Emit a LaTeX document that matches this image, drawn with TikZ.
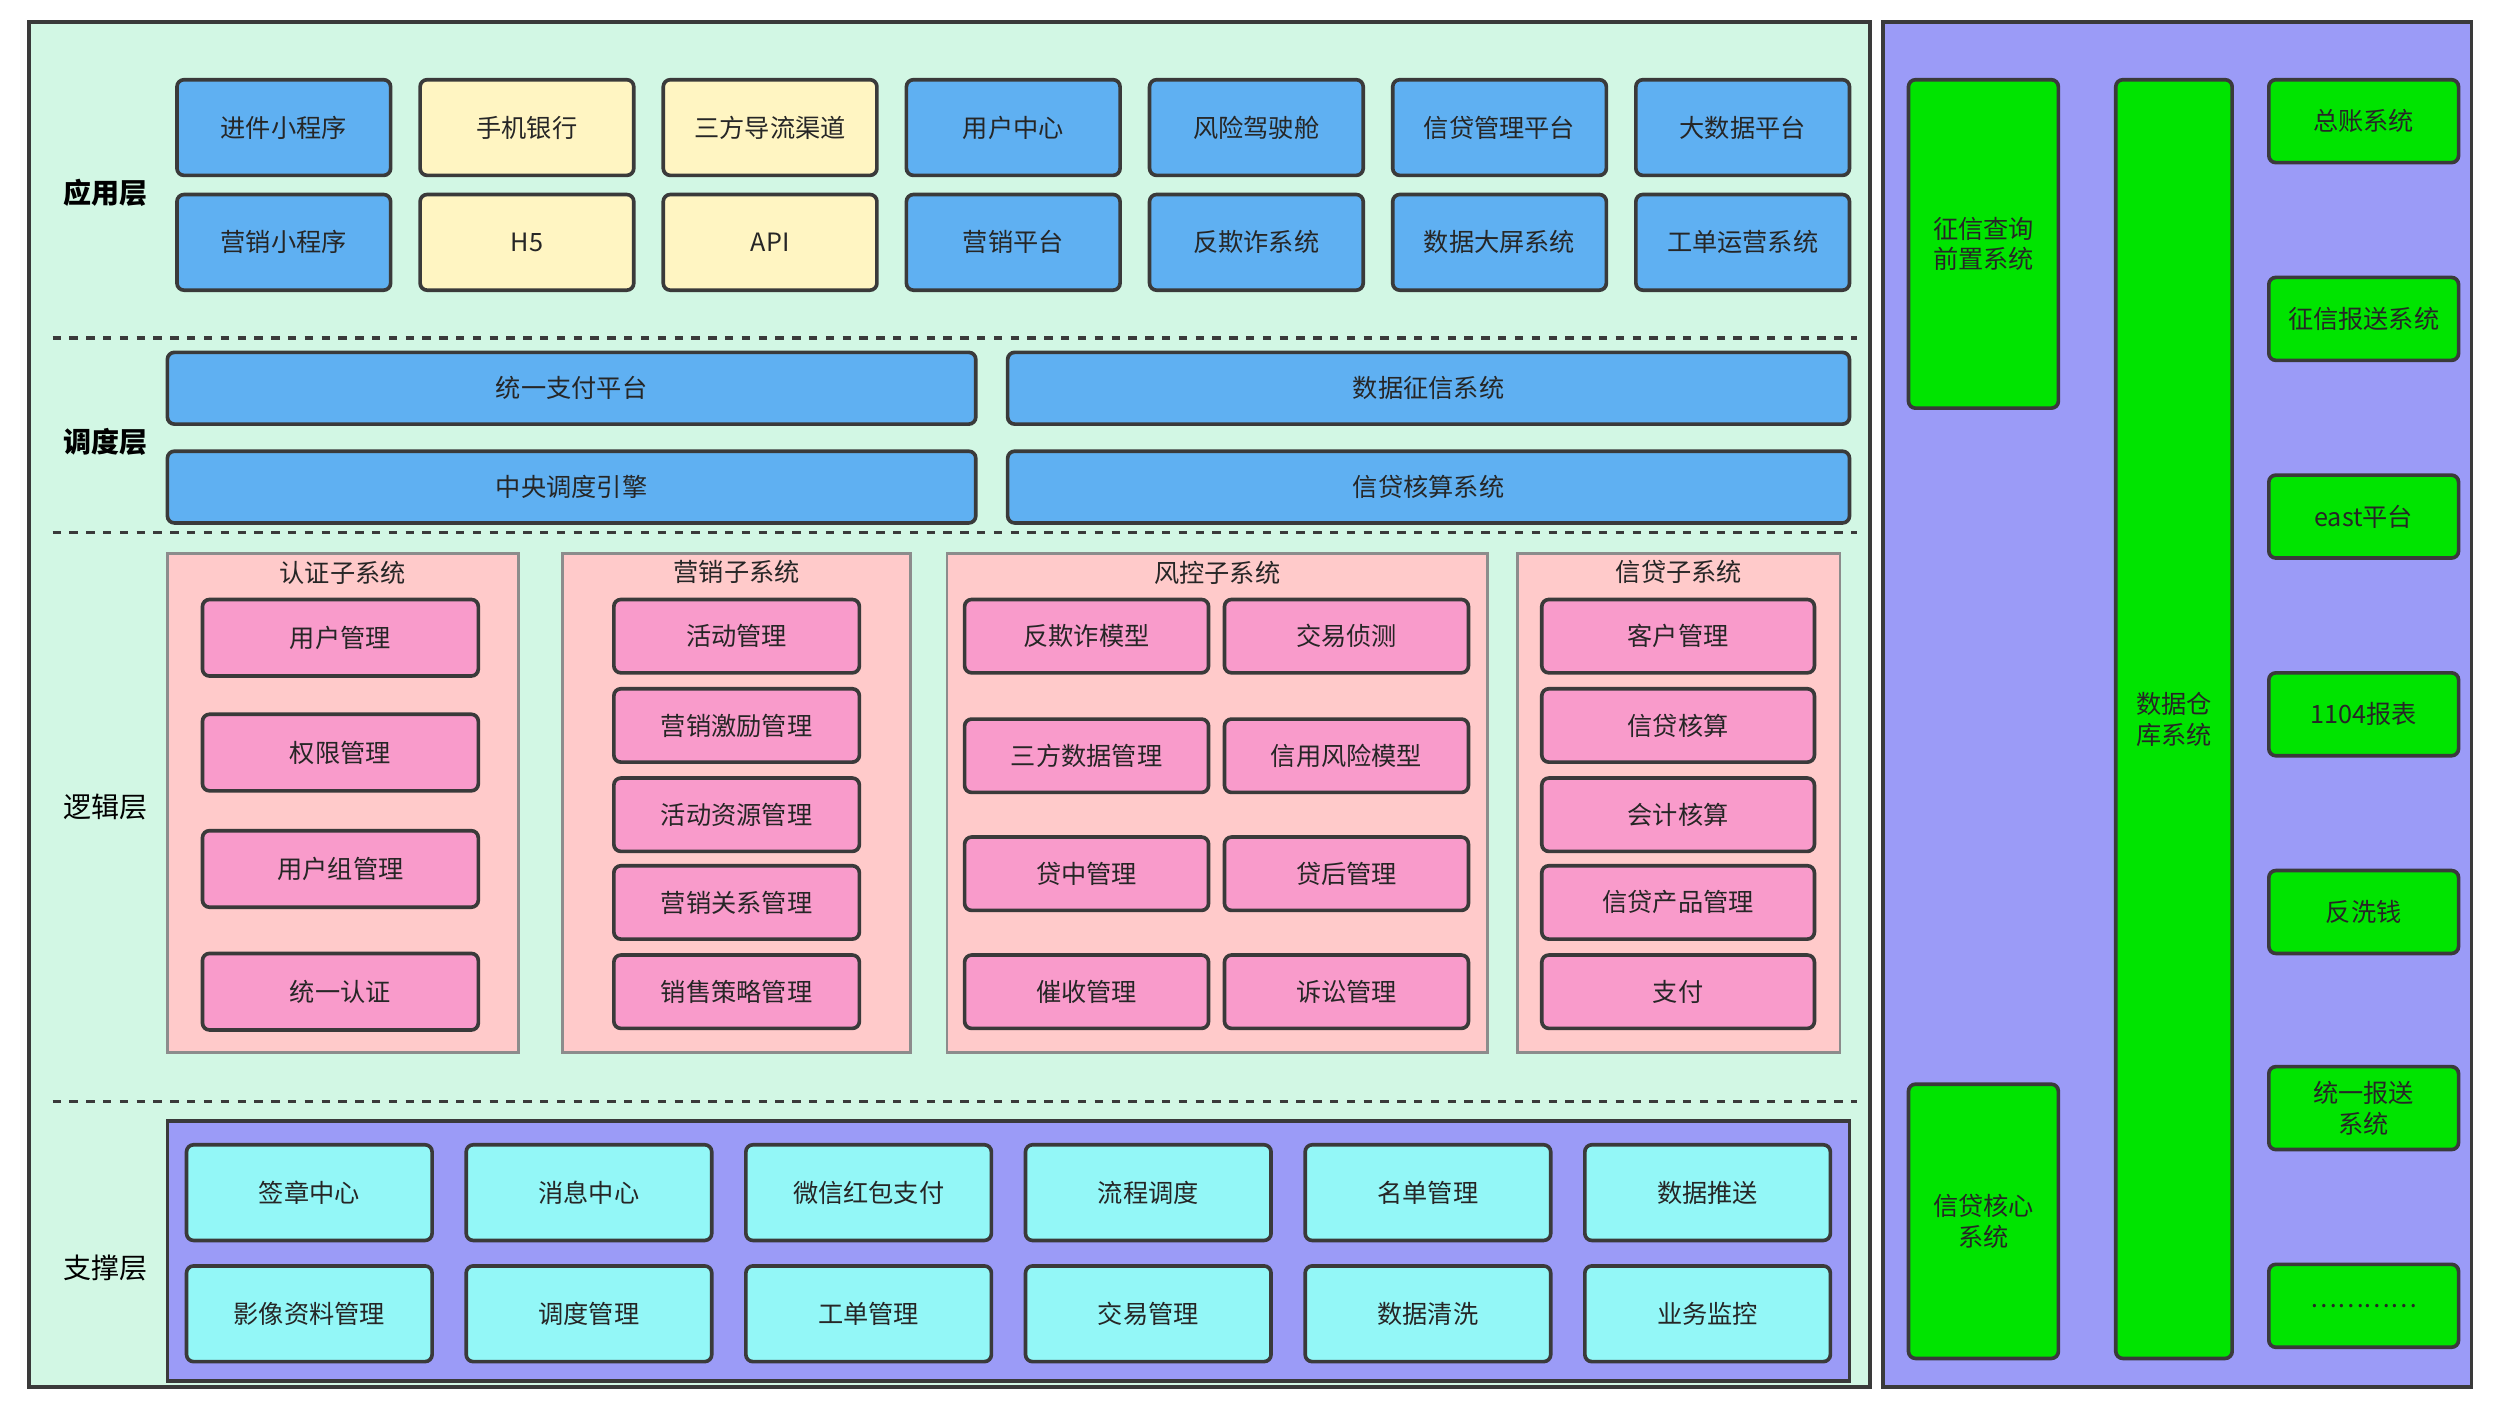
\documentclass[tikz,border=0pt]{standalone}
\usepackage{fontspec}
\setmainfont{Noto Sans CJK SC}
\usepackage{tikz}

\definecolor{mint}{HTML}{D2F7E4}
\definecolor{violet}{HTML}{9B9BF7}
\definecolor{bb}{HTML}{5FB0F2}
\definecolor{yy}{HTML}{FFF5C2}
\definecolor{sub}{HTML}{FFCACA}
\definecolor{pk}{HTML}{F99BCB}
\definecolor{cy}{HTML}{93F7F7}
\definecolor{gr}{HTML}{00E400}
\definecolor{edge}{HTML}{3A3A3A}

\tikzset{
  box/.style={draw=edge, line width=1.3pt, rounded corners=2.5pt},
  txt/.style={font=\fontsize{9}{11}\selectfont, text=black!85, align=center, inner sep=0pt},
  layer/.style={font=\fontsize{10}{12}\selectfont\bfseries}
}
\newcommand\blk[7]{%
  \draw[box, fill=#6] (#2,#3) rectangle (#4,#5) node[midway, txt] (#1) {#7};}

\begin{document}
\begin{tikzpicture}[x=0.02cm, y=-0.02cm]
    \useasboundingbox (0,0) rectangle (1568,882);

    % panels
    \draw[draw=edge, line width=1.3pt, fill=mint] (18,14) rectangle (1173,870);
    \draw[draw=edge, line width=1.3pt, fill=violet] (1181,14) rectangle (1550,870);
    \foreach \y in {212, 334, 691} {
      \draw[very thick, dashed, edge] (33,\y) -- (1165,\y);
    }
    \node[layer] (lapp) at (66,121) {应用层};
    \node[layer] (lsch) at (66,277) {调度层};
    \node[font=\fontsize{10}{12}\selectfont] (llog) at (66,506) {逻辑层};
    \node[font=\fontsize{10}{12}\selectfont] (lsup) at (66,795) {支撑层};

    % application layer
    \foreach \t/\c [count=\i from 0] in {进件小程序/bb, 手机银行/yy, 三方导流渠道/yy,
        用户中心/bb, 风险驾驶舱/bb, 信贷管理平台/bb, 大数据平台/bb} {
      \blk{appa\i}{111+152.5*\i}{50}{245+152.5*\i}{110}{\c}{\t}
    }
    \foreach \t/\c [count=\i from 0] in {营销小程序/bb, H5/yy, API/yy,
        营销平台/bb, 反欺诈系统/bb, 数据大屏系统/bb, 工单运营系统/bb} {
      \blk{appb\i}{111+152.5*\i}{122}{245+152.5*\i}{182}{\c}{\t}
    }

    % scheduling layer
    \blk{pay}{105}{221}{612}{266}{bb}{统一支付平台}
    \blk{credit}{632}{221}{1160}{266}{bb}{数据征信系统}
    \blk{engine}{105}{283}{612}{328}{bb}{中央调度引擎}
    \blk{account}{632}{283}{1160}{328}{bb}{信贷核算系统}

    % logic layer
    \foreach \xa/\xb/\t [count=\i] in {105/325/认证子系统, 353/571/营销子系统,
        594/933/风控子系统, 952/1154/信贷子系统} {
      \draw[draw=black!45, line width=1pt, fill=sub] (\xa,347) rectangle (\xb,660);
      \node[txt] (subt\i) at ({(\xa+\xb)/2},359) {\t};
    }
    \foreach \t/\ya/\yb [count=\i] in {用户管理/376/424, 权限管理/448/496,
        用户组管理/521/569, 统一认证/598/646} {
      \blk{auth\i}{127}{\ya}{300}{\yb}{pk}{\t}
    }
    \foreach \t/\ya [count=\i] in {活动管理/376, 营销激励管理/432, 活动资源管理/488,
        营销关系管理/543, 销售策略管理/599} {
      \blk{mkt\i}{385}{\ya}{539}{\ya+46}{pk}{\t}
    }
    \foreach \ta/\tb/\ya [count=\i] in {反欺诈模型/交易侦测/376, 三方数据管理/信用风险模型/451,
        贷中管理/贷后管理/525, 催收管理/诉讼管理/599} {
      \blk{riska\i}{605}{\ya}{758}{\ya+46}{pk}{\ta}
      \blk{riskb\i}{768}{\ya}{921}{\ya+46}{pk}{\tb}
    }
    \foreach \t/\ya [count=\i] in {客户管理/376, 信贷核算/432, 会计核算/488,
        信贷产品管理/543, 支付/599} {
      \blk{loan\i}{967}{\ya}{1138}{\ya+46}{pk}{\t}
    }

    % support layer
    \draw[draw=edge, line width=1.3pt, fill=violet] (105,703) rectangle (1160,866);
    \foreach \ta/\tb [count=\i from 0] in {签章中心/影像资料管理, 消息中心/调度管理,
        微信红包支付/工单管理, 流程调度/交易管理, 名单管理/数据清洗, 数据推送/业务监控} {
      \blk{supa\i}{117+175.4*\i}{718}{271+175.4*\i}{778}{cy}{\ta}
      \blk{supb\i}{117+175.4*\i}{794}{271+175.4*\i}{854}{cy}{\tb}
    }

    % right panel
    \blk{front}{1197}{50}{1291}{256}{gr}{征信查询\\前置系统}
    \blk{core}{1197}{680}{1291}{852}{gr}{信贷核心\\系统}
    \blk{dw}{1327}{50}{1400}{852}{gr}{数据仓\\库系统}
    \foreach \t/\ya [count=\i] in {总账系统/50, 征信报送系统/174, east平台/298,
        1104报表/422, 反洗钱/546, 统一报送\\系统/669, …………/793} {
      \blk{rep\i}{1423}{\ya}{1542}{\ya+52}{gr}{\t}
    }
  \end{tikzpicture}
\end{document}
